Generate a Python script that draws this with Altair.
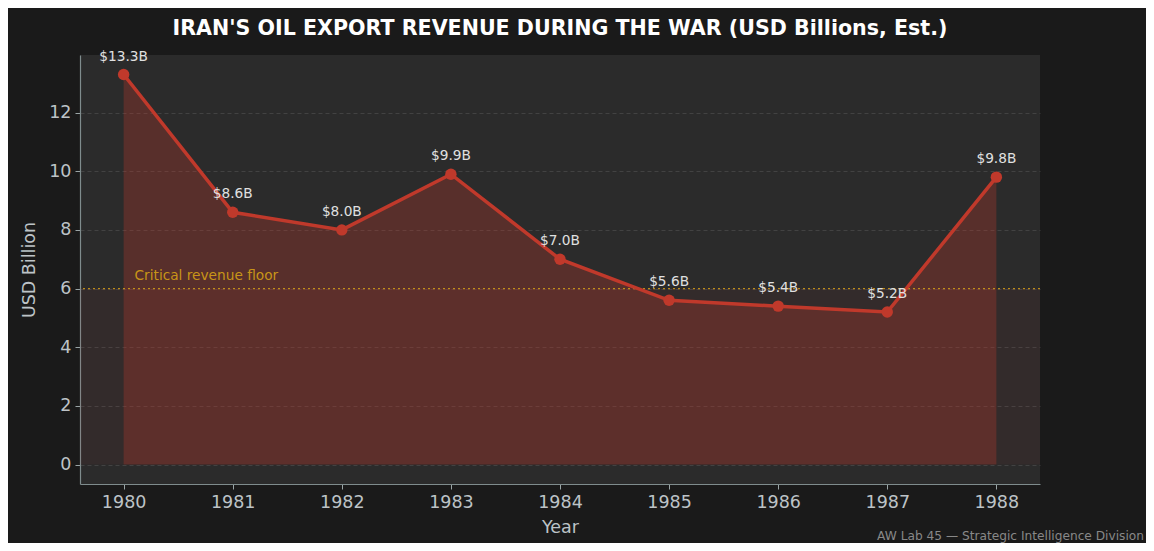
import altair as alt
import pandas as pd

years = [1980, 1981, 1982, 1983, 1984, 1985, 1986, 1987, 1988]
revenue = [13.3, 8.6, 8.0, 9.9, 7.0, 5.6, 5.4, 5.2, 9.8]
labels = ["$13.3B", "$8.6B", "$8.0B", "$9.9B", "$7.0B", "$5.6B", "$5.4B", "$5.2B", "$9.8B"]
x_domain = [1979.6, 1988.4]
y_domain = [-0.665, 13.965]
y_ticks = [0, 2, 4, 6, 8, 10, 12]
floor_value = 6
floor_label = "Critical revenue floor"
floor_label_x = 1980.1
title_text = "IRAN'S OIL EXPORT REVENUE DURING THE WAR (USD Billions, Est.)"
footer_text = "AW Lab 45 \u2014 Strategic Intelligence Division"

RED = "#c0392b"
GOLD = "#d4a017"

df = pd.DataFrame({"Year": years, "Revenue": revenue, "Label": labels})
span_df = pd.DataFrame({"Year": [x_domain[0]], "Year2": [x_domain[1]], "Revenue": [0], "Revenue2": [floor_value]})
floor_df = pd.DataFrame({"Revenue": [floor_value]})
floor_text_df = pd.DataFrame({"Year": [floor_label_x], "Revenue": [floor_value], "t": [floor_label]})
footer_df = pd.DataFrame({"t": [footer_text]})

xs = alt.Scale(domain=x_domain, nice=False, zero=False)
ys = alt.Scale(domain=y_domain, nice=False, zero=False)

x_axis = alt.Axis(values=years, format="d", grid=False)
y_axis = alt.Axis(values=y_ticks, grid=True)
x_enc = alt.X("Year:Q", scale=xs, title="Year", axis=x_axis)
y_enc = alt.Y("Revenue:Q", scale=ys, title="USD Billion", axis=y_axis)

base = alt.Chart(df)

span = alt.Chart(span_df).mark_rect(color=RED, opacity=0.06).encode(
    x=x_enc, x2="Year2:Q", y=y_enc, y2="Revenue2:Q")

area = base.mark_area(color=RED, opacity=0.3).encode(
    x=x_enc, y=y_enc, y2=alt.datum(0))

floor_rule = alt.Chart(floor_df).mark_rule(
    color=GOLD, strokeDash=[2, 3], strokeWidth=1.3, opacity=0.85
).encode(y=y_enc)

floor_text = alt.Chart(floor_text_df).mark_text(
    color=GOLD, align="left", baseline="bottom", dy=-6, fontSize=13.7,
    font="DejaVu Sans", opacity=0.9
).encode(x=x_enc, y=y_enc, text="t:N")

line = base.mark_line(color=RED, strokeWidth=3.5).encode(x=x_enc, y=y_enc)

points = base.mark_circle(color=RED, size=130, opacity=1).encode(x=x_enc, y=y_enc)

value_text = base.mark_text(
    color="#e0e0e0", baseline="bottom", dy=-11, fontSize=13.7, font="DejaVu Sans"
).encode(x=x_enc, y=y_enc, text="Label:N")

footer = alt.Chart(footer_df).mark_text(
    color="#888888", align="right", baseline="middle", fontSize=12.2, font="DejaVu Sans"
).encode(x=alt.value(1064), y=alt.value(481), text="t:N")

chart = alt.layer(area, span, floor_rule, floor_text, line, points, value_text, footer).properties(
    width=960, height=429,
    title=alt.TitleParams(title_text, color="white", fontSize=20.6, fontWeight="bold",
                          font="DejaVu Sans", anchor="middle", offset=10),
    background="#1a1a1a",
    padding={"left": 72, "top": 47, "right": 106, "bottom": 59},
    autosize=alt.AutoSizeParams(type="none"),
).configure_view(fill="#2b2b2b", stroke=None).configure_axis(
    domainColor="#7f8c8d", domainWidth=1.2, tickColor="#9aa5a6", tickSize=5,
    labelColor="#bdc3c7", labelFontSize=17.5, labelFont="DejaVu Sans",
    titleColor="#bdc3c7", titleFontSize=17.5, titleFont="DejaVu Sans", titleFontWeight="normal",
    gridColor="#555555", gridOpacity=0.7, gridDash=[4, 3], gridWidth=0.8,
).configure_axisX(labelPadding=4, titlePadding=8).configure_axisY(labelPadding=4, titlePadding=10)

chart.save("out.html", embed_options={"renderer": "svg", "actions": False})
